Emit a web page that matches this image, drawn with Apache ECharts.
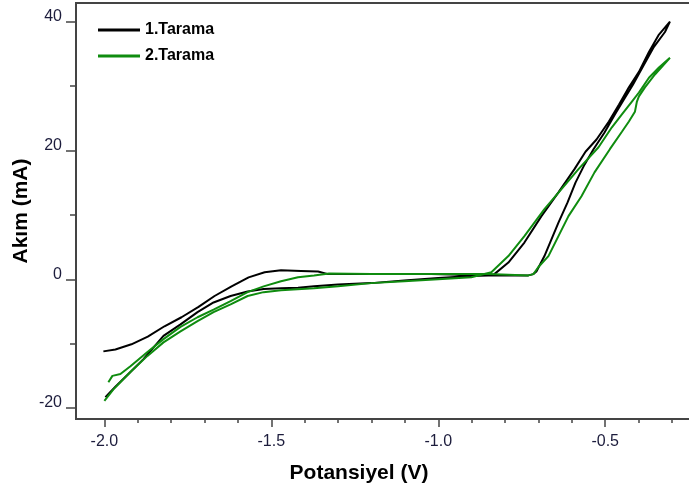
<!DOCTYPE html>
<html>
<head>
<meta charset="utf-8">
<script src="https://cdn.jsdelivr.net/npm/echarts@6/dist/echarts.min.js"></script>
<style>
  html, body { margin: 0; padding: 0; background: #fff; }
  #chart { width: 689px; height: 491px; }
</style>
</head>
<body>
<div id="chart"></div>
<script>
// 1.Tarama (black) - potential (V) and current (mA), in scan order
const scan1V = [-2.003, -1.967, -1.919, -1.870, -1.820, -1.769, -1.718, -1.670, -1.619, -1.568, -1.520, -1.471, -1.411, -1.360, -1.330,
  -1.201, -1.021, -0.850, -0.730, -0.715, -0.706, -0.682, -0.661, -0.640, -0.613, -0.589, -0.562, -0.535, -0.502, -0.471,
  -0.444, -0.417, -0.384, -0.354, -0.321, -0.306,
  -0.339, -0.369, -0.399, -0.429, -0.459, -0.489, -0.526, -0.559, -0.592, -0.640, -0.691, -0.742, -0.790, -0.832, -0.850,
  -0.901, -1.000, -1.102, -1.201, -1.300, -1.372, -1.420, -1.471, -1.523, -1.571, -1.622, -1.673, -1.721, -1.772, -1.823,
  -1.883, -1.928, -1.967, -1.997];
const scan1I = [-11.2, -10.9, -10.1, -8.9, -7.3, -5.9, -4.3, -2.6, -1.1, 0.3, 1.1, 1.4, 1.3, 1.2, 0.8,
  0.8, 0.8, 0.6, 0.6, 0.8, 1.2, 3.6, 6.2, 8.8, 11.9, 15.0, 17.8, 20.2, 22.8, 25.6,
  27.9, 30.2, 33.3, 36.1, 38.4, 40.0,
  38.0, 35.3, 32.2, 29.8, 27.1, 24.5, 21.7, 19.8, 17.1, 13.5, 9.8, 5.7, 2.6, 0.8, 0.6,
  0.5, 0.2, -0.2, -0.6, -0.8, -1.1, -1.3, -1.4, -1.5, -1.9, -2.6, -3.6, -5.1, -7.0, -8.8,
  -12.4, -14.7, -16.7, -18.3];

// 2.Tarama (green)
const scan2V = [-1.988, -1.976, -1.952, -1.922, -1.871, -1.823, -1.772, -1.721, -1.673, -1.622, -1.571, -1.523, -1.471, -1.420, -1.372, -1.327,
  -1.201, -1.000, -0.850, -0.730, -0.715, -0.700, -0.670, -0.640, -0.610, -0.571, -0.532, -0.486, -0.450, -0.429, -0.411,
  -0.405, -0.399, -0.381, -0.351, -0.306,
  -0.339, -0.369, -0.399, -0.420, -0.450, -0.480, -0.520, -0.580, -0.631, -0.682, -0.742, -0.790, -0.841,
  -0.901, -1.000, -1.102, -1.201, -1.300, -1.372, -1.471, -1.523, -1.571, -1.622, -1.673, -1.721, -1.772, -1.823, -1.871,
  -1.922, -1.973, -2.000];
const scan2I = [-16.0, -15.0, -14.7, -13.5, -11.3, -9.3, -7.4, -5.9, -4.7, -3.4, -2.0, -1.1, -0.3, 0.3, 0.6, 0.9,
  0.8, 0.8, 0.8, 0.6, 0.8, 1.9, 3.6, 6.7, 9.8, 12.9, 16.6, 20.2, 22.9, 24.5, 26.0,
  27.6, 28.4, 29.8, 31.8, 34.4,
  32.9, 31.3, 29.0, 27.6, 25.6, 23.6, 20.5, 17.1, 14.0, 10.9, 6.7, 3.6, 1.1,
  0.3, 0.0, -0.3, -0.6, -1.1, -1.4, -1.7, -2.0, -2.6, -3.9, -5.1, -6.5, -8.1, -9.8, -11.9,
  -14.4, -17.1, -18.9];

// axis ticks
const xMajor = [-2.0, -1.5, -1.0, -0.5];
const xMinor = [-2.0, -1.9, -1.8, -1.7, -1.6, -1.5, -1.4, -1.3, -1.2, -1.1, -1.0, -0.9, -0.8, -0.7, -0.6, -0.5, -0.4, -0.3];
const yMajor = [-20, 0, 20, 40];
const yMinor = [-10, 10, 30];

const axisColor = '#444';
const labelColor = '#1c1c3c';
const font = 'Liberation Sans, Arial';

const zip = (xs, ys) => xs.map((x, i) => [x, ys[i]]);

const chart = echarts.init(document.getElementById('chart'));

const option = {
    animation: false,
    grid: {
        left: 76, right: -3, top: 3, bottom: 72,
        show: true, borderColor: axisColor, borderWidth: 2,
        outerBoundsMode: 'none'
    },
    legend: {
        data: ['1.Tarama', '2.Tarama'],
        orient: 'vertical',
        left: 93, top: 17,
        icon: 'rect',
        itemWidth: 42, itemHeight: 3,
        itemGap: 10,
        textStyle: {fontFamily: font, fontWeight: 'bold', fontSize: 16, color: '#000'}
    },
    xAxis: [
        {
            type: 'value', min: -2.085, max: -0.24,
            axisLine: {onZero: false, lineStyle: {color: axisColor, width: 2}},
            axisTick: {customValues: xMajor, length: 8, lineStyle: {color: axisColor, width: 1.5}},
            axisLabel: {
                customValues: xMajor, margin: 15,
                formatter: v => v.toFixed(1),
                fontFamily: font, fontSize: 16, color: labelColor
            },
            splitLine: {show: false},
            name: 'Potansiyel (V)',
            nameLocation: 'middle', nameGap: 44, nameMoveOverlap: false,
            nameTextStyle: {fontFamily: font, fontWeight: 'bold', fontSize: 21, color: '#000', padding: [0, 50, 0, 0]}
        },
        {
            type: 'value', min: -2.085, max: -0.24, position: 'bottom',
            axisLine: {show: false, onZero: false},
            axisTick: {customValues: xMinor, length: 4, lineStyle: {color: axisColor, width: 1.5}},
            axisLabel: {show: false},
            splitLine: {show: false}
        }
    ],
    yAxis: [
        {
            type: 'value', min: -21.7, max: 42.9,
            axisLine: {show: true, onZero: false, lineStyle: {color: axisColor, width: 2}},
            axisTick: {show: true, customValues: yMajor, length: 10, lineStyle: {color: axisColor, width: 1.5}},
            axisLabel: {
                customValues: yMajor, margin: 14,
                verticalAlign: 'bottom', lineHeight: 10,
                fontFamily: font, fontSize: 16, color: labelColor
            },
            splitLine: {show: false},
            name: 'Akım (mA)',
            nameLocation: 'middle', nameGap: 44, nameMoveOverlap: false,
            nameTextStyle: {fontFamily: font, fontWeight: 'bold', fontSize: 21, color: '#000'}
        },
        {
            type: 'value', min: -21.7, max: 42.9, position: 'left',
            axisLine: {show: false, onZero: false},
            axisTick: {show: true, customValues: yMinor, length: 6, lineStyle: {color: axisColor, width: 1.5}},
            axisLabel: {show: false},
            splitLine: {show: false}
        }
    ],
    series: [
        {
            name: '1.Tarama', type: 'line', data: zip(scan1V, scan1I),
            showSymbol: false, symbol: 'none',
            lineStyle: {color: '#000', width: 2}, itemStyle: {color: '#000'}
        },
        {
            name: '2.Tarama', type: 'line', data: zip(scan2V, scan2I),
            showSymbol: false, symbol: 'none',
            lineStyle: {color: '#0f8c0f', width: 2}, itemStyle: {color: '#0f8c0f'}
        }
    ]
};

chart.setOption(option);
</script>
</body>
</html>
